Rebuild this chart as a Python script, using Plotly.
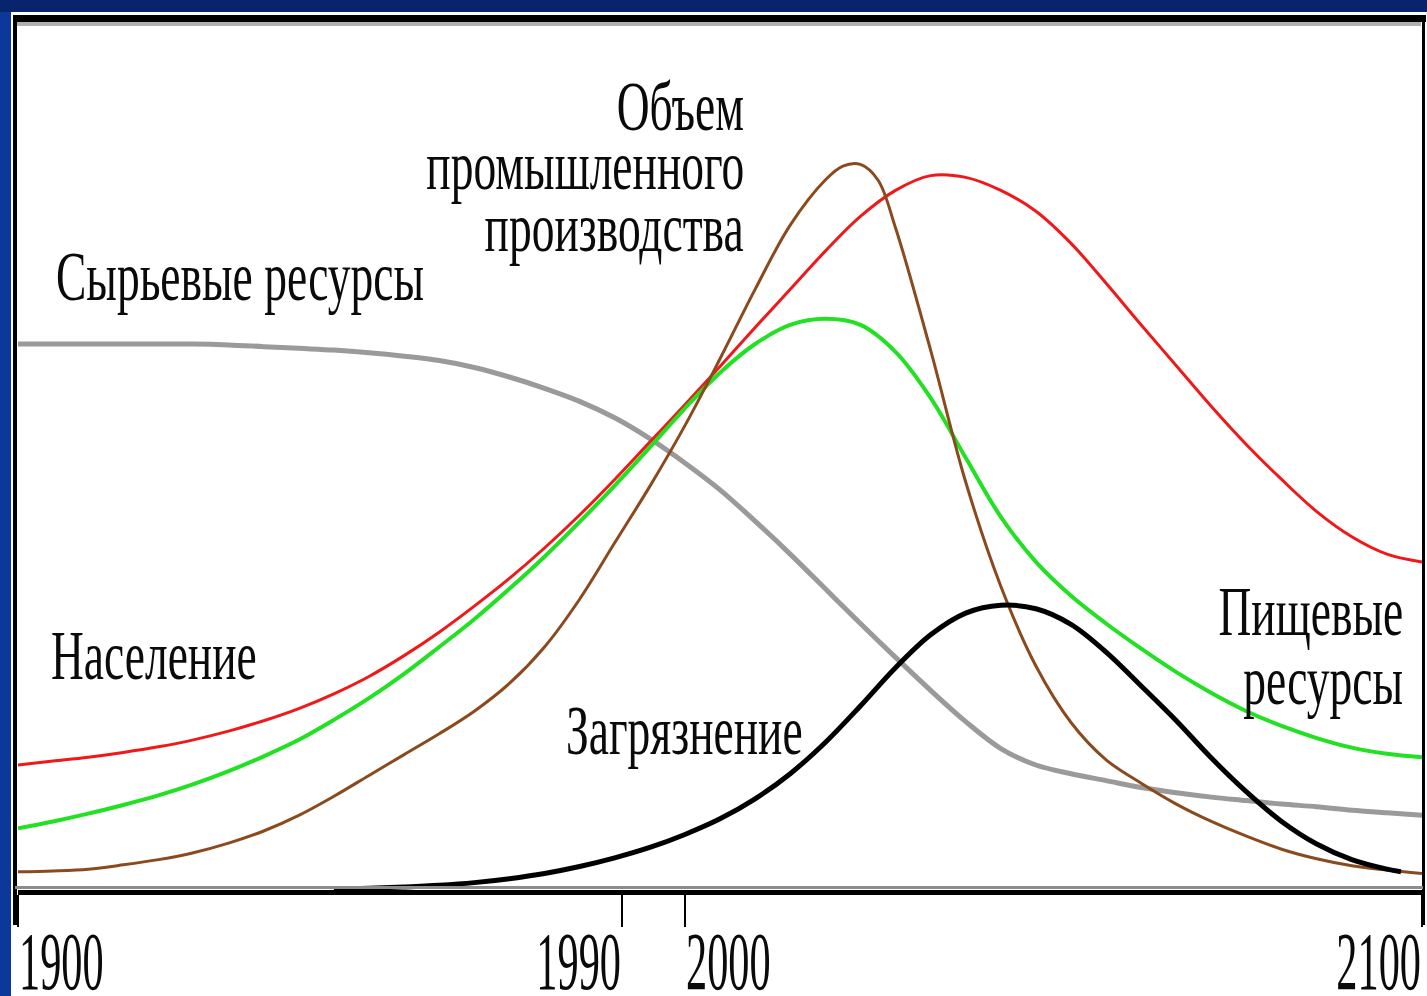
import json
import plotly.graph_objects as go

# ---------------- data (years, relative level 0-100) ----------------
YEARS = [1900, 1905, 1910, 1915, 1920, 1925, 1930, 1935, 1940, 1945, 1950, 1955, 1960, 1965,
         1970, 1975, 1980, 1985, 1990, 1995, 2000, 2005, 2010, 2015, 2020, 2025, 2030, 2035,
         2040, 2045, 2050, 2055, 2060, 2065, 2070, 2075, 2080, 2085, 2090, 2095, 2100]

POPULATION = [14.4, 14.85, 15.3, 15.85, 16.5, 17.3, 18.3, 19.5, 20.9, 22.6, 24.6, 27.0, 29.7, 32.7,
              35.9, 39.4, 43.2, 47.3, 51.6, 55.9, 60.3, 64.8, 69.2, 73.6, 77.6, 80.6, 82.3, 82.1,
              80.6, 78.2, 74.5, 69.9, 65.1, 60.4, 55.7, 51.3, 47.3, 43.6, 40.7, 38.7, 37.8]

FOOD = [7.1, 7.9, 8.8, 9.8, 10.9, 12.2, 13.7, 15.4, 17.3, 19.6, 22.1, 24.9, 28.0, 31.2,
        34.7, 38.4, 42.4, 46.6, 51.0, 55.5, 59.6, 62.9, 65.1, 65.8, 65.1, 62.0, 56.7, 49.8,
        43.0, 37.8, 33.9, 30.7, 27.8, 25.1, 22.7, 20.6, 18.9, 17.5, 16.4, 15.7, 15.3]

RESOURCES = [62.9, 62.9, 62.9, 62.9, 62.9, 62.9, 62.8, 62.6, 62.4, 62.2, 61.9, 61.5, 61.0, 60.2,
             59.1, 57.8, 56.3, 54.4, 52.0, 49.2, 46.1, 42.5, 38.7, 34.7, 30.7, 26.8, 23.0, 19.4,
             16.3, 14.4, 13.4, 12.6, 11.8, 11.2, 10.7, 10.3, 9.9, 9.6, 9.2, 8.9, 8.6]

IND_YEARS = [1900, 1905, 1910, 1915, 1920, 1925, 1930, 1935, 1940, 1945, 1950, 1955, 1960, 1965,
             1970, 1975, 1980, 1985, 1990, 1995, 2000, 2005, 2010, 2015, 2017.5, 2020, 2022.5, 2025,
             2030, 2035, 2040, 2045, 2050, 2055, 2060, 2065, 2070, 2075, 2080, 2085, 2090, 2095, 2100]
INDUSTRY = [2.1, 2.2, 2.4, 2.9, 3.5, 4.3, 5.4, 6.8, 8.6, 10.8, 13.2, 15.6, 18.0, 20.6,
            23.8, 28.0, 33.5, 40.0, 46.5, 53.5, 61.2, 69.2, 76.6, 81.8, 83.4, 83.6, 81.8, 76.3,
            62.2, 47.0, 35.0, 25.8, 19.3, 15.0, 12.3, 9.9, 7.9, 6.2, 4.7, 3.6, 2.8, 2.3, 1.9]

POL_YEARS = [1945, 1950, 1955, 1960, 1965, 1970, 1975, 1980, 1985, 1990, 1995, 2000, 2005, 2010,
             2015, 2020, 2025, 2030, 2035, 2040, 2045, 2050, 2055, 2060, 2065, 2070, 2075, 2080,
             2085, 2090, 2095, 2097]
POLLUTION = [0.1, 0.2, 0.35, 0.55, 0.85, 1.3, 1.9, 2.7, 3.7, 4.9, 6.4, 8.2, 10.5, 13.4,
             17.0, 21.2, 25.6, 29.4, 31.9, 32.8, 32.4, 30.6, 27.4, 23.5, 19.5, 15.2, 11.3, 7.9,
             5.3, 3.5, 2.4, 2.1]

TICK_POS = [1900, 1986, 1995, 2100]
TICK_TEXT = ["1900", "1990", "2000", "2100"]
TICK_ANCHOR = ["left", "right", "left", "right"]

LABEL_TEXT = ["Сырьевые ресурсы", "Объем", "промышленного", "производства",
              "Население", "Загрязнение", "Пищевые", "ресурсы"]
LABEL_X = [1905.3, 2003.6, 2003.6, 2003.6, 1904.6, 1977.9, 2097.4, 2097.4]
LABEL_Y = [70.7, 90.3, 83.5, 76.3, 27.0, 18.4, 32.1, 24.1]
LABEL_ANCHOR = ["left", "right", "right", "right", "left", "left", "right", "right"]

# ---------------- figure ----------------
W, H = 1427, 996
ML, MR, MT, MB = 18, 5, 22, 106
PW, PH = W - ML - MR, H - MT - MB


def px_x(px):
    return (px - ML) / PW


def px_y(py):
    return (H - MB - py) / PH


series = [
    (YEARS, RESOURCES, "#9a9a9a", 5),
    (YEARS, POPULATION, "#f01818", 3),
    (YEARS, FOOD, "#22e022", 4),
    (IND_YEARS, INDUSTRY, "#8a4a1e", 3),
    (POL_YEARS, POLLUTION, "#000000", 5),
]

fig = go.Figure()
for xs, ys, color, width in series:
    fig.add_trace(go.Scatter(x=xs, y=ys, mode="lines",
                             line=dict(color=color, width=width, shape="spline", smoothing=1.0),
                             hoverinfo="skip", showlegend=False))

FONT = "Liberation Serif, Times New Roman, serif"

annotations = []
squeeze = []
for t, x, y, a in zip(LABEL_TEXT, LABEL_X, LABEL_Y, LABEL_ANCHOR):
    annotations.append(dict(text=t, x=x, y=y, xref="x", yref="y", xanchor=a, yanchor="middle",
                            align=a, showarrow=False, borderpad=0,
                            font=dict(family=FONT, size=70, color="#0a0a0a")))
    squeeze.append([0.65, a])
for t, x, a in zip(TICK_TEXT, TICK_POS, TICK_ANCHOR):
    annotations.append(dict(text=t, x=x, y=px_y(961), xref="x", yref="paper", xanchor=a,
                            yanchor="middle", showarrow=False, borderpad=0,
                            font=dict(family=FONT, size=83, color="#0a0a0a")))
    squeeze.append([0.51, a])

shapes = [
    # blue slide frame
    dict(type="rect", xref="paper", yref="paper", x0=px_x(0), x1=px_x(11), y0=px_y(996), y1=px_y(0),
         fillcolor="#0c389a", line=dict(width=0), layer="above"),
    dict(type="rect", xref="paper", yref="paper", x0=px_x(0), x1=px_x(1427), y0=px_y(12), y1=px_y(0),
         fillcolor="#07246c", line=dict(width=0), layer="above"),
    # chart frame
    dict(type="line", xref="paper", yref="paper", x0=px_x(13), x1=px_x(1426), y0=px_y(18.5), y1=px_y(18.5),
         line=dict(color="#000000", width=7), layer="above"),
    dict(type="line", xref="paper", yref="paper", x0=px_x(17), x1=px_x(1421), y0=px_y(24), y1=px_y(24),
         line=dict(color="#b0b0b0", width=4), layer="above"),
    dict(type="line", xref="paper", yref="paper", x0=px_x(15), x1=px_x(15), y0=px_y(925), y1=px_y(16),
         line=dict(color="#000000", width=4), layer="above"),
    dict(type="line", xref="paper", yref="paper", x0=px_x(1423.5), x1=px_x(1423.5), y0=px_y(925), y1=px_y(16),
         line=dict(color="#000000", width=3), layer="above"),
    # grey band above the axis line
    dict(type="line", xref="paper", yref="paper", x0=px_x(15), x1=px_x(1423), y0=px_y(887.5), y1=px_y(887.5),
         line=dict(color="#8c8c8c", width=3), layer="above"),
]

fig.update_layout(
    width=W, height=H,
    margin=dict(l=ML, r=MR, t=MT, b=MB),
    paper_bgcolor="white", plot_bgcolor="white",
    showlegend=False,
    xaxis=dict(range=[1900, 2100], showgrid=False, zeroline=False,
               showline=True, linecolor="#000000", linewidth=5,
               ticks="outside", tickvals=TICK_POS, ticklen=32, tickwidth=2, tickcolor="#000000",
               showticklabels=False, fixedrange=True),
    yaxis=dict(range=[0, 100], visible=False, fixedrange=True),
    annotations=annotations,
    shapes=shapes,
)

# the reference uses a narrow (condensed) serif face: squeeze the annotation text horizontally,
# keeping the anchored edge in place
post = """
document.body.style.margin='0';
document.body.style.overflow='hidden';
(function(){
  var S = %s;
  var gd = document.getElementById('{plot_id}');
  var groups = gd.querySelectorAll('g.annotation');
  for (var k = 0; k < groups.length; k++) {
    var g = groups[k];
    var i = parseInt(g.getAttribute('data-index'));
    if (isNaN(i)) { i = k; }
    var spec = S[i];
    if (!spec) { continue; }
    var t = g.querySelector('text.annotation-text');
    if (!t) { continue; }
    var b = t.getBBox();
    var ax = spec[1] === 'right' ? b.x + b.width : b.x;
    t.setAttribute('transform', 'translate(' + ax + ',0) scale(' + spec[0] + ',1) translate(' + (-ax) + ',0)');
  }
})();
""" % json.dumps(squeeze)

fig.write_html("out.html", config={"displayModeBar": False}, post_script=post)
